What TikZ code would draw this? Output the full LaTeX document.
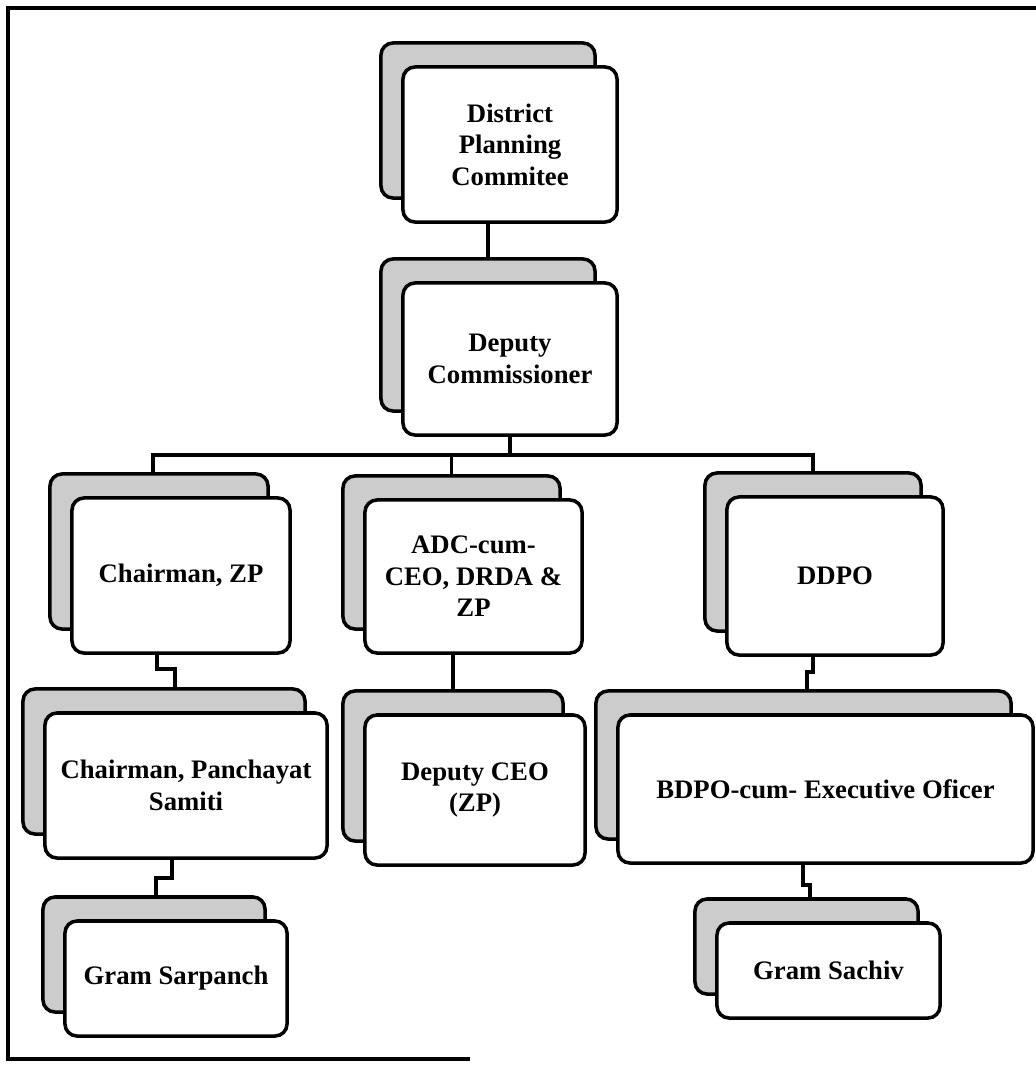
\documentclass[tikz,border=0pt]{standalone}
\usepackage{fontspec}
\setmainfont{Liberation Serif}
\usetikzlibrary{positioning}

\begin{document}
\begin{tikzpicture}[x=0.025cm, y=-0.025cm]

  \tikzstyle{card} = [rectangle, rounded corners=0.3cm, line width=2.5pt, draw=black, fill=white, align=center, font=\fontsize{19}{22.5}\selectfont\bfseries]
  \tikzstyle{backcard} = [rectangle, rounded corners=0.3cm, line width=2.5pt, draw=black, fill=gray!40]
  \tikzstyle{conn} = [line width=2.5pt]
  \tikzstyle{front} = [card, xshift=0.55cm, yshift=-0.6cm]

  \useasboundingbox (0,0) rectangle (1036,1069);
  \draw [conn] (1036,8) -- (8,8) -- (8,1059) -- (470,1059);

  % top levels
  \node (dpcback) [backcard, minimum width=5.35cm, minimum height=3.875cm] at (488,120.5) {};
  \node (dpc) [front, minimum width=5.35cm, minimum height=3.875cm, at=(dpcback.center)] {District\\Planning\\Commitee};

  \node (dcback) [backcard, minimum width=5.35cm, minimum height=3.8cm] at (488,335) {};
  \node (dc) [front, minimum width=5.35cm, minimum height=3.8cm, at=(dcback.center)] {Deputy\\Commissioner};
  \draw [conn] (dcback.north |- dpc.south) -- (dcback.north);

  % second level
  \node (chzpback) [backcard, minimum width=5.45cm, minimum height=3.875cm] at (159,551.5) {};
  \node (chzp) [front, minimum width=5.45cm, minimum height=3.875cm, at=(chzpback.center)] {Chairman, ZP};

  \node (adcback) [backcard, minimum width=5.425cm, minimum height=3.825cm] at (451.5,552.5) {};
  \node (adc) [front, minimum width=5.425cm, minimum height=3.825cm, at=(adcback.center)] {ADC-cum-\\CEO, DRDA \&\\ZP};

  \node (ddpoback) [backcard, minimum width=5.4cm, minimum height=3.95cm] at (813,552) {};
  \node (ddpo) [front, minimum width=5.4cm, minimum height=3.95cm, at=(ddpoback.center)] {DDPO};

  % bus
  \draw [conn] (dc.south) -- ++(0,18) coordinate (bus);
  \draw [conn] ([xshift=-0.15cm]chzpback.north) |- (bus) -| (ddpoback.north);
  \draw [conn] (adcback.north |- bus) -- (adcback.north);

  % third level
  \node (chpsback) [backcard, minimum width=7.05cm, minimum height=3.625cm] at (164,761.5) {};
  \node (chps) [front, minimum width=7.05cm, minimum height=3.625cm, at=(chpsback.center)] {Chairman, Panchayat\\Samiti};
  \draw [conn] ([xshift=-0.6cm]chzp.south) -- ++(0,14) -| ([xshift=0.275cm]chpsback.north);

  \node (dceoback) [backcard, minimum width=5.5cm, minimum height=3.75cm] at (453,766) {};
  \node (dceo) [front, minimum width=5.5cm, minimum height=3.75cm, at=(dceoback.center)] {Deputy CEO\\(ZP)};
  \draw [conn] (dceoback.north |- adc.south) -- (dceoback.north);

  \node (bdpoback) [backcard, minimum width=10.375cm, minimum height=3.7cm] at (803.5,765) {};
  \node (bdpo) [front, minimum width=10.375cm, minimum height=3.7cm, at=(bdpoback.center)] {BDPO-cum- Executive Oficer};
  \draw [conn] ([xshift=-0.55cm]ddpo.south) -- ++(0,15) -| ([xshift=0.09cm]bdpoback.north);

  % bottom level
  \node (gsarback) [backcard, minimum width=5.55cm, minimum height=2.875cm] at (154,954.5) {};
  \node (gsar) [front, minimum width=5.55cm, minimum height=2.875cm, at=(gsarback.center)] {Gram Sarpanch};
  \draw [conn] ([xshift=-0.35cm]chps.south) -- ++(0,18) -| ([xshift=0.05cm]gsarback.north);

  \node (gsacback) [backcard, minimum width=5.575cm, minimum height=2.375cm] at (806.5,946.5) {};
  \node (gsac) [front, minimum width=5.575cm, minimum height=2.375cm, at=(gsacback.center)] {Gram Sachiv};
  \draw [conn] ([xshift=-0.56cm]bdpo.south) -- ++(0,20) -| ([xshift=0.09cm]gsacback.north);

\end{tikzpicture}
\end{document}
